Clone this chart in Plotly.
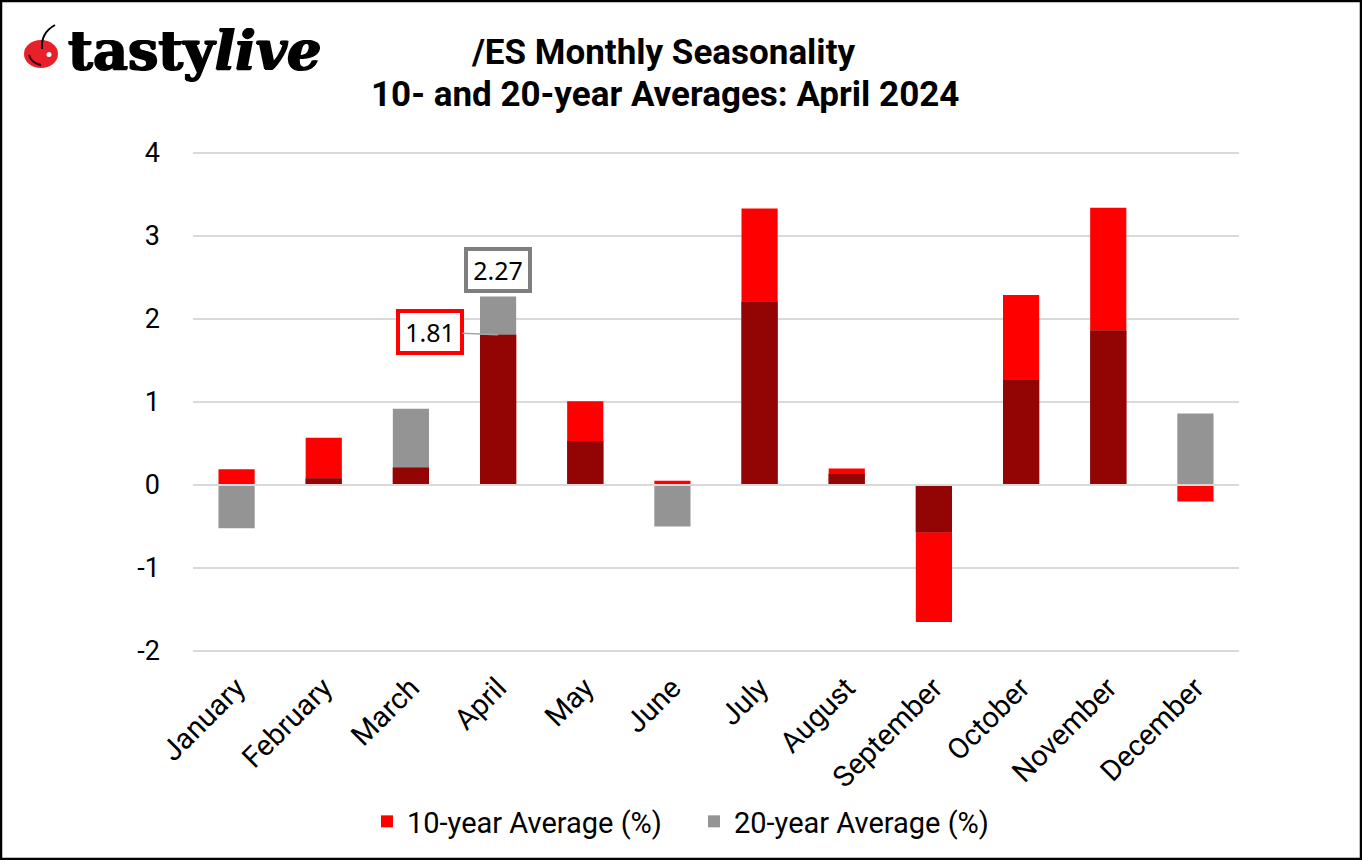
import plotly.graph_objects as go

months = ["January", "February", "March", "April", "May", "June", "July",
          "August", "September", "October", "November", "December"]
avg_10y = [0.19, 0.57, 0.21, 1.81, 1.01, 0.05, 3.33, 0.20, -1.65, 2.29, 3.34, -0.20]
avg_20y = [-0.52, 0.08, 0.92, 2.27, 0.53, -0.50, 2.21, 0.14, -0.57, 1.27, 1.86, 0.86]
y_ticks = [-2, -1, 0, 1, 2, 3, 4]
y_labels = ["-2", "-1", "0", "1", "2", "3", "4"]
title_lines = ["/ES Monthly Seasonality", "10- and 20-year Averages: April 2024"]

W, H = 1362, 860
L, R, T, B = 193, 1239, 151, 653


def px(x):
    return (x - L) / (R - L)


def py(y):
    return (B - y) / (B - T)


# where both averages share a sign, the overlapping part is shown in dark red
overlap = [
    (1 if a > 0 else -1) * min(abs(a), abs(b)) if a * b > 0 else 0
    for a, b in zip(avg_10y, avg_20y)
]

fig = go.Figure()
fig.add_bar(x=months, y=avg_10y, name="10-year Average (%)", marker=dict(color="#FF0000", line_width=0), width=0.415)
fig.add_bar(x=months, y=avg_20y, name="20-year Average (%)", marker=dict(color="#949494", line_width=0), width=0.415)
fig.add_bar(x=months, y=overlap, name="overlap", marker=dict(color="#930404", line_width=0), width=0.415, showlegend=False)

shapes = [
    # zero line drawn over the bars
    dict(type="line", xref="paper", yref="y", x0=0, x1=1, y0=0, y1=0,
         line=dict(color="#D9D9D9", width=2), layer="above"),
    # frame
    dict(type="rect", xref="paper", yref="paper", x0=px(1), x1=px(W - 1), y0=py(1), y1=py(H - 1),
         line=dict(color="black", width=2.5), layer="above"),
    # logo cherry
    dict(type="circle", xref="paper", yref="paper", x0=px(24), x1=px(58), y0=py(68), y1=py(40),
         fillcolor="#E8202A", line=dict(width=0), layer="above"),
    dict(type="path", xref="paper", yref="paper",
         path=f"M {px(42)} {py(49)} C {px(41)} {py(38)}, {px(46)} {py(30)}, {px(55)} {py(25)}",
         line=dict(color="black", width=2), layer="above"),
    dict(type="path", xref="paper", yref="paper",
         path=f"M {px(29)} {py(55)} C {px(30)} {py(60)}, {px(35)} {py(64)}, {px(41)} {py(65)}",
         line=dict(color="#2a0505", width=2), layer="above"),
    dict(type="circle", xref="paper", yref="paper", x0=px(46.5), x1=px(51.5), y0=py(57), y1=py(52),
         fillcolor="white", line=dict(width=0), layer="above"),
]

annotations = [
    dict(xref="paper", yref="paper", x=px(66), y=py(50), xanchor="left", yanchor="middle",
         text="<b>tasty<i>live</i></b>", showarrow=False,
         font=dict(family="DejaVu Serif", size=54, color="black",
                   shadow="1px 0 0 black, -1px 0 0 black, 0 1px 0 black")),
    dict(xref="paper", yref="paper", x=px(664.5), y=py(94), xanchor="center", yanchor="middle",
         text=f"<b>{title_lines[1]}</b>", showarrow=False,
         font=dict(family="Roboto", size=35, color="black")),
    dict(x="April", y=avg_20y[3], xref="x", yref="y", text=f"{avg_20y[3]:.2f}",
         ax=0, ay=-27, showarrow=True, arrowcolor="rgba(0,0,0,0)", arrowwidth=1, arrowhead=0,
         width=60, height=38, bgcolor="white", bordercolor="#7F7F7F", borderwidth=4, borderpad=0,
         font=dict(family="Noto Sans", size=25, color="black")),
    dict(x="April", y=avg_10y[3], xref="x", yref="y", text=f"{avg_10y[3]:.2f}",
         ax=-68, ay=-3, showarrow=True, arrowcolor="#A6A6A6", arrowwidth=1.5, arrowhead=0,
         width=60, height=38, bgcolor="white", bordercolor="#FF0000", borderwidth=4, borderpad=0,
         font=dict(family="Noto Sans", size=25, color="black")),
]

fig.update_layout(
    width=W, height=H,
    margin=dict(l=L, r=W - R, t=T, b=H - B, autoexpand=False),
    paper_bgcolor="white", plot_bgcolor="white",
    barmode="overlay",
    font=dict(family="Roboto", color="black"),
    title=dict(text=f"<b>{title_lines[0]}</b>",
               xref="container", yref="container", x=663.5 / W, xanchor="center",
               y=1 - 52 / H, yanchor="middle",
               font=dict(family="Roboto", size=35, color="black")),
    xaxis=dict(categoryorder="array", categoryarray=months, tickangle=-45, showgrid=False,
               showline=False, zeroline=False, ticks="", ticklabelstandoff=11,
               tickfont=dict(size=29, color="black")),
    yaxis=dict(range=[-2.024, 4.024], tickvals=y_ticks, ticktext=y_labels,
               gridcolor="#D9D9D9", gridwidth=1.5,
               zeroline=False, showline=False, ticks="", ticklabelstandoff=32,
               tickfont=dict(size=27, color="black")),
    legend=dict(orientation="h", xref="paper", yref="paper", x=px(367), y=py(796),
                xanchor="left", yanchor="top", font=dict(size=29, color="black"),
                entrywidth=282, entrywidthmode="pixels",
                itemclick=False, itemdoubleclick=False),
    shapes=shapes, annotations=annotations,
    bargap=0.585,
)

fig.write_html("out.html", config=dict(displayModeBar=False),
               post_script="document.body.style.margin='0';")
